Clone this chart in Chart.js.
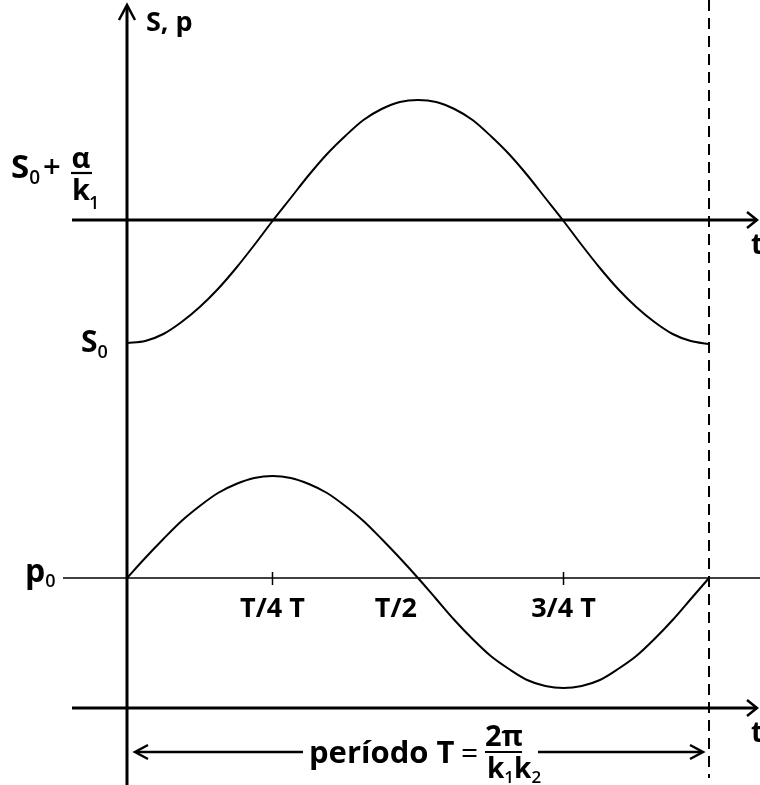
<!DOCTYPE html>
<html>
<head>
<meta charset="utf-8">
<script src="https://cdn.jsdelivr.net/npm/chart.js@4/dist/chart.umd.min.js"></script>
<style>
  html, body { margin: 0; padding: 0; background: #fff; }
  #wrap { width: 760px; height: 785px; }
</style>
</head>
<body>
<div id="wrap"><canvas id="c" width="760" height="785"></canvas></div>
<script>
// ---- data (t in units of the period T) ----
const tValues = [0, 0.03125, 0.0625, 0.09375, 0.125, 0.15625, 0.1875, 0.21875, 0.25,
                 0.28125, 0.3125, 0.34375, 0.375, 0.40625, 0.4375, 0.46875, 0.5,
                 0.53125, 0.5625, 0.59375, 0.625, 0.65625, 0.6875, 0.71875, 0.75,
                 0.78125, 0.8125, 0.84375, 0.875, 0.90625, 0.9375, 0.96875, 1];
const sValues = [2.35, 2.37, 2.44, 2.56, 2.71, 2.89, 3.10, 3.33, 3.57,
                 3.80, 4.03, 4.24, 4.42, 4.58, 4.69, 4.76, 4.78,
                 4.76, 4.69, 4.58, 4.42, 4.24, 4.03, 3.80, 3.57,
                 3.33, 3.10, 2.89, 2.71, 2.56, 2.44, 2.37, 2.34];
const pValues = [0, 0.20, 0.39, 0.57, 0.72, 0.85, 0.94, 1.00, 1.02,
                 1.00, 0.94, 0.85, 0.72, 0.57, 0.39, 0.20, 0,
                 -0.21, -0.42, -0.61, -0.78, -0.91, -1.02, -1.08, -1.10,
                 -1.08, -1.02, -0.91, -0.78, -0.61, -0.42, -0.21, 0];

// reference levels on the S,p axis
const levelS0 = 2.35;
const levelS0Alpha = 3.58;
const levelP0 = 0;
const levelLowerT = -1.30;

// tick labels on the p0 line
const xTickPositions = [0.25, 0.5, 0.75];
const xTickLabels = ['T/4 T', 'T/2', '3/4 T'];
const xTickMarks = [true, false, true];

const FONT = '"Open Sans", "Noto Sans", "DejaVu Sans", sans-serif';
function font(size, weight) { return (weight || 'bold') + ' ' + size + 'px ' + FONT; }

const decorations = {
  id: 'decorations',
  beforeDatasetsDraw(chart) {
    const ctx = chart.ctx;
    const xs = chart.scales.x, ys = chart.scales.y;
    const X = v => xs.getPixelForValue(v);
    const Y = v => ys.getPixelForValue(v);
    const W = chart.width;
    ctx.save();
    ctx.strokeStyle = '#000';
    ctx.fillStyle = '#000';
    ctx.lineCap = 'butt';
    ctx.textBaseline = 'alphabetic';

    function line(x1, y1, x2, y2, w, dash) {
      ctx.beginPath();
      ctx.lineWidth = w;
      ctx.setLineDash(dash || []);
      ctx.moveTo(x1, y1); ctx.lineTo(x2, y2);
      ctx.stroke();
      ctx.setLineDash([]);
    }
    function chevron(tx, ty, dx, dy, len, spread, w) {
      const px = -dy, py = dx;
      ctx.beginPath();
      ctx.lineWidth = w;
      ctx.lineJoin = 'miter';
      ctx.moveTo(tx - dx * len + px * spread, ty - dy * len + py * spread);
      ctx.lineTo(tx, ty);
      ctx.lineTo(tx - dx * len - px * spread, ty - dy * len - py * spread);
      ctx.stroke();
    }
    // base text with a subscript directly after it; returns end x
    function sub(base, s, x, y, size, subSize, drop, gap) {
      ctx.textAlign = 'left';
      ctx.font = font(size);
      ctx.fillText(base, x, y);
      const w = ctx.measureText(base).width;
      ctx.font = font(subSize, '600');
      ctx.fillText(s, x + w + (gap || 0), y + drop);
      return x + w + (gap || 0) + ctx.measureText(s).width;
    }

    const x0 = X(0);
    // vertical S,p axis
    line(x0, 6, x0, chart.height, 3);
    chevron(x0, 5, 0, -1, 15, 8, 2.5);

    // upper t axis (S0 + alpha/k1)
    const yU = Y(levelS0Alpha);
    line(72, yU, W - 3, yU, 3);
    chevron(W - 3, yU, 1, 0, 10, 8, 2.5);

    // p0 line
    const yP = Y(levelP0);
    line(63, yP, W, yP, 1.5);

    // lower t axis
    const yL = Y(levelLowerT);
    line(72, yL, W - 3, yL, 3);
    chevron(W - 3, yL, 1, 0, 10, 8, 2.5);

    // dashed period line
    const xT = X(1);
    line(xT, 0, xT, 778, 2, [11, 7]);

    // tick marks and tick labels
    ctx.font = font(27);
    xTickPositions.forEach((t, i) => {
      const px = X(t);
      if (xTickMarks[i]) {
        line(px, yP - 6, px, yP + 7, 1.5);
        ctx.textAlign = 'center';
        ctx.fillText(xTickLabels[i], px, yP + 39);
      } else {
        ctx.textAlign = 'right';
        ctx.fillText(xTickLabels[i], px - 1, yP + 39);
      }
    });

    // t labels at the right edge
    ctx.textAlign = 'left';
    ctx.font = font(28);
    ctx.fillText('t', W - 9, yU + 34);
    ctx.fillText('t', W - 9, yL + 34);

    // "S, p"
    ctx.font = font(27);
    ctx.fillText('S, p', 146, 31);

    // S0 + alpha/k1
    const ySA = Y(levelS0Alpha);
    let ex = sub('S', '0', 11, ySA - 42, 33, 19, 6, 0);
    ctx.font = font(31, '600');
    ctx.textAlign = 'left';
    ctx.fillText('+', ex + 3, ySA - 43);
    ctx.font = font(29);
    ctx.textAlign = 'center';
    ctx.fillText('\u03b1', 81, ySA - 52);
    line(71, ySA - 47, 92, ySA - 47, 2.2);
    sub('k', '1', 72, ySA - 20, 29, 18, 9, -1);

    // S0
    const yS = Y(levelS0);
    sub('S', '0', 81, yS + 9, 30, 18, 6, 0);

    // p0
    sub('p', '0', 25, yP + 4, 32, 18, 5, 0);

    // period annotation
    const yA = 752;
    line(136, yA, 303, yA, 2.5);
    chevron(135, yA, -1, 0, 13, 7, 2.5);
    line(538, yA, 702, yA, 2.5);
    chevron(703, yA, 1, 0, 13, 7, 2.5);
    ctx.font = font(31);
    ctx.textAlign = 'left';
    ctx.fillText('per\u00edodo T', 309, 763);
    ctx.font = font(30, 'normal');
    ctx.fillText('=', 461, 763);
    ctx.font = font(29);
    ctx.textAlign = 'center';
    ctx.fillText('2\u03c0', 504, 746);
    line(485, yA, 522, yA, 2);
    let kx = sub('k', '1', 487, 778, 28, 17, 5, 0);
    sub('k', '2', kx, 778, 28, 17, 5, 0);

    ctx.restore();
  }
};

const toPoints = vals => tValues.map((t, i) => ({ x: t, y: vals[i] }));

new Chart(document.getElementById('c'), {
  type: 'line',
  data: {
    datasets: [
      { label: 'S', data: toPoints(sValues), borderColor: '#000', borderWidth: 2,
        pointRadius: 0, fill: false, cubicInterpolationMode: 'monotone' },
      { label: 'p', data: toPoints(pValues), borderColor: '#000', borderWidth: 2,
        pointRadius: 0, fill: false, cubicInterpolationMode: 'monotone' }
    ]
  },
  options: {
    responsive: false,
    animation: false,
    devicePixelRatio: 1,
    layout: { padding: 0 },
    plugins: { legend: { display: false }, tooltip: { enabled: false }, title: { display: false } },
    events: [],
    scales: {
      x: { type: 'linear', display: false, min: -0.2182, max: 1.0876 },
      y: { type: 'linear', display: false, min: -2.07, max: 5.78 }
    }
  },
  plugins: [decorations]
});
</script>
</body>
</html>
